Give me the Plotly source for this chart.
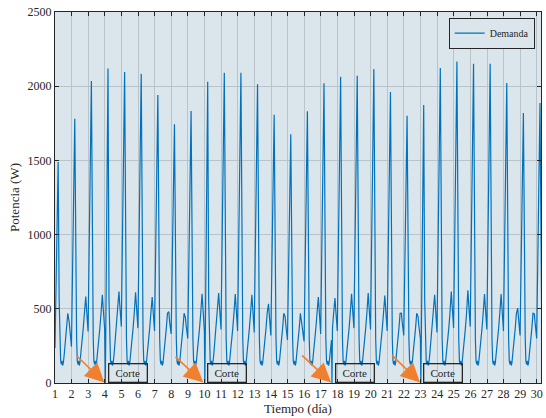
import plotly.graph_objects as go

# ---------------- data ----------------
days = list(range(1, 31))
# evening peak of each day (W), located at day + 0.19
peak_w = [1490, 1780, 2035, 2120, 2095, 2083, 1940, 1743, 1833, 2030,
          2090, 2090, 2013, 1808, 1676, 1831, 2020, 2063, 2070, 2115,
          1961, 1801, 1874, 2122, 2166, 2151, 2151, 2022, 1820, 1887]
# second (smaller) bump of each day, located at day + 0.85 (days 1..29)
bump_w = [414, 583, 594, 617, 612, 580, 480, 440, 601, 606,
          599, 594, 534, 448, 408, 579, 572, 601, 606, 590,
          471, 448, 595, 617, 624, 599, 599, 505, 466]
# dip just before the next evening peak (days 1..29)
dip_w = [245, 347, 360, 380, 370, 350, 330, 300, 350, 360,
         350, 340, 320, 290, 280, 330, 350, 370, 360, 350,
         320, 300, 340, 370, 380, 360, 350, 320, 300]
# decay after the peak and night plateau (offset in days, W)
night_off = [0.25, 0.30, 0.34, 0.38, 0.42, 0.46, 0.50, 0.55, 0.60, 0.64, 0.70, 0.77]
night_w = [560, 300, 150, 125, 150, 118, 135, 185, 250, 290, 370, 470]
start_w = 236
# power cuts (curve falls to 0)
cut_day = [4.03, 10.02, 17.67, 23.02]
cut_w = [0, 0, 0, 0]
# arrows and "Corte" labels
arrow_tail_x = [2.24, 8.16, 15.78, 21.2]
arrow_tail_y = [190, 185, 195, 196]
arrow_tip_x = [3.97, 9.92, 17.62, 22.97]
arrow_tip_y = [3, 3, 3, 3]
corte_x = [5.42, 11.37, 19.05, 24.37]

# ---------------- build series ----------------
pts = [(1.0, start_w)]
for i, d in enumerate(days):
    pts.append((d + 0.19, peak_w[i]))
    for o, v in zip(night_off, night_w):
        pts.append((d + o, v))
    if i < len(bump_w):
        pts.append((d + 0.85, bump_w[i]))
        pts.append((d + 0.89, bump_w[i] * 0.88))
        pts.append((d + 0.99, dip_w[i]))
for cx, cy in zip(cut_day, cut_w):
    pts.append((cx, cy))
pts.sort()
x = [p[0] for p in pts]
y = [p[1] for p in pts]

fig = go.Figure()
fig.add_trace(go.Scatter(x=x, y=y, mode="lines", name="Demanda",
                         line=dict(color="#0072BD", width=1.2)))

font_fam = "Liberation Serif, Times New Roman, serif"
for tx, ty, hx, hy in zip(arrow_tail_x, arrow_tail_y, arrow_tip_x, arrow_tip_y):
    fig.add_annotation(x=hx, y=hy, ax=tx, ay=ty, xref="x", yref="y",
                       axref="x", ayref="y", text="", showarrow=True,
                       arrowhead=2, arrowsize=2.4, arrowwidth=1.6,
                       arrowcolor="#F0802E", standoff=0)
for cx in corte_x:
    fig.add_annotation(x=cx, y=0, xref="x", yref="y", text="Corte",
                       showarrow=False, xanchor="center", yanchor="bottom",
                       width=37, height=17, borderpad=0,
                       bordercolor="#262626", borderwidth=1.3,
                       bgcolor="rgba(0,0,0,0)",
                       font=dict(family=font_fam, size=11, color="#262626"))

axis_common = dict(showline=True, linecolor="#262626", linewidth=1,
                   mirror="ticks", ticks="inside", ticklen=4,
                   tickcolor="#262626", showgrid=True, gridcolor="#b9c4ca",
                   gridwidth=1, zeroline=False,
                   tickfont=dict(family=font_fam, size=12, color="#262626"))
fig.update_xaxes(range=[1, 30.25], tickvals=days, ticktext=[str(d) for d in days],
                 title=dict(text="Tiempo (día)", standoff=3,
                            font=dict(family=font_fam, size=13, color="#262626")),
                 **axis_common)
fig.update_yaxes(range=[0, 2500], tickvals=[0, 500, 1000, 1500, 2000, 2500],
                 title=dict(text="Potencia (W)", standoff=5,
                            font=dict(family=font_fam, size=13, color="#262626")),
                 **axis_common)
fig.update_layout(width=546, height=418,
                  margin=dict(l=55, r=3, t=12, b=35),
                  paper_bgcolor="white", plot_bgcolor="#dbe6ec",
                  font=dict(family=font_fam, size=11, color="#262626"),
                  showlegend=True,
                  legend=dict(x=0.987, y=0.985, xanchor="right", yanchor="top",
                              bgcolor="#dbe6ec", bordercolor="#262626",
                              borderwidth=1, itemwidth=30,
                              font=dict(family=font_fam, size=10, color="#262626"),
                              tracegroupgap=0))
fig.write_html("out.html")
